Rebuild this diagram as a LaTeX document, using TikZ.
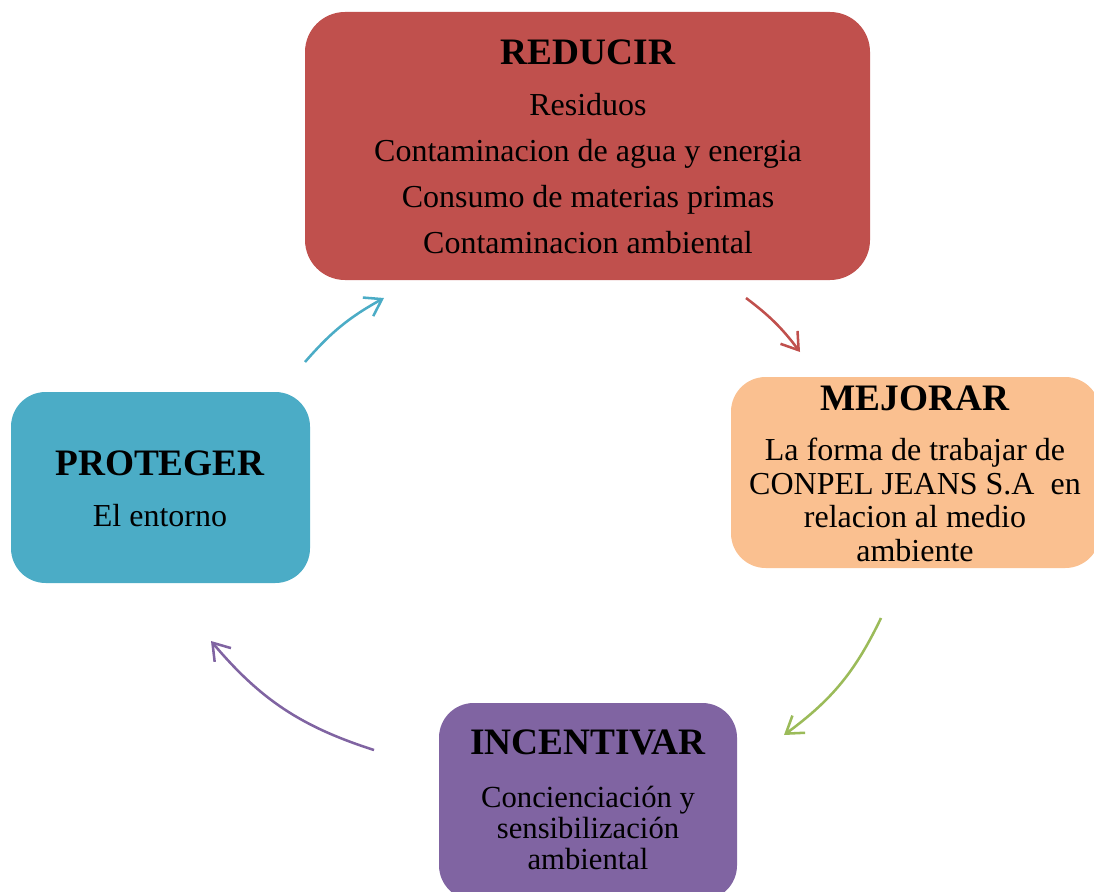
\documentclass[tikz,border=0pt]{standalone}
\usepackage{fontspec}
\setmainfont{Liberation Serif}
\usetikzlibrary{arrows.meta}
\definecolor{redbox}{HTML}{C0504D}
\definecolor{orangebox}{HTML}{FAC090}
\definecolor{purplebox}{HTML}{8064A2}
\definecolor{cyanbox}{HTML}{4BACC6}
\definecolor{greenarrow}{HTML}{9BBB59}
\begin{document}
\begin{tikzpicture}[x=0.75pt,y=-0.75pt,
  panel/.style={draw=none,rounded corners=#1},
  title/.style={font=\fontsize{28}{32}\selectfont\bfseries,inner sep=0pt},
  body/.style={align=center,inner sep=0pt},
  cycle/.style={line width=1.9pt,-{Straight Barb[length=12pt,width=16pt]}}]
\useasboundingbox (0,0) rectangle (1094,891);

% panels
\fill[redbox,panel=30pt] (305,12) rectangle (870,280);
\fill[orangebox,panel=26pt] (731,377) rectangle (1100,568);
\fill[purplebox,panel=26pt] (439,703) rectangle (737,900);
\fill[cyanbox,panel=26pt] (11,392) rectangle (310,583);

% REDUCIR
\node[title] (tred) at (588,52) {REDUCIR};
\node[body,font=\fontsize{24}{34.5}\selectfont] (bred) at (588,174)
  {Residuos\\Contaminacion de agua y energia\\Consumo de materias primas\\Contaminacion ambiental};

% MEJORAR
\node[title] (tmej) at (915,398) {MEJORAR};
\node[body,font=\fontsize{24}{25.2}\selectfont] (bmej) at (915,500)
  {La forma de trabajar de\\CONPEL JEANS S.A\ \ en\\relacion al medio\\ambiente};

% INCENTIVAR
\node[title] (tinc) at (588,742) {INCENTIVAR};
\node[body,font=\fontsize{23}{23.6}\selectfont] (binc) at (588,828)
  {Concienciación y\\sensibilización\\ambiental};

% PROTEGER
\node[title] (tpro) at (160,463) {PROTEGER};
\node[body,font=\fontsize{24}{28}\selectfont] (bpro) at (160,516) {El entorno};

% cycle arrows
\coordinate (c1s) at (305,362);
\coordinate (c1e) at (384,298);
\coordinate (c2s) at (746,298);
\coordinate (c2e) at (800,352);
\coordinate (c3s) at (881,618);
\coordinate (c3e) at (784,735);
\coordinate (c4s) at (374,750);
\coordinate (c4e) at (211,641);
\draw[cycle,cyanbox] (c1s) to[bend left=10] (c1e);
\draw[cycle,redbox] (c2s) to[bend left=8] (c2e);
\draw[cycle,greenarrow] (c3s) to[bend left=14] (c3e);
\draw[cycle,purplebox] (c4s) to[bend left=16] (c4e);
\end{tikzpicture}
\end{document}
